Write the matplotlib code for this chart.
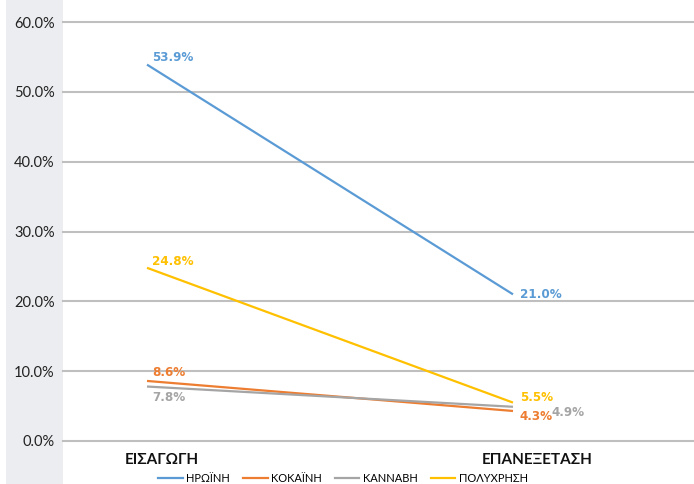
import matplotlib
matplotlib.use("Agg")
import matplotlib.pyplot as plt
from matplotlib.patches import Rectangle
from matplotlib.lines import Line2D
import matplotlib.transforms as mtransforms
from matplotlib import font_manager

categories = ["ΕΙΣΑΓΩΓΗ", "ΕΠΑΝΕΞΕΤΑΣΗ"]
series_names = ["ΗΡΩΪΝΗ", "ΚΟΚΑΪΝΗ", "ΚΑΝΝΑΒΗ", "ΠΟΛΥΧΡΗΣΗ"]
heroin = [53.9, 21.0]
cocaine = [8.6, 4.3]
cannabis = [7.8, 4.9]
poly = [24.8, 5.5]
yticks = [0, 10, 20, 30, 40, 50, 60]

colors = ["#5B9BD5", "#ED7D31", "#A5A5A5", "#FFC000"]
series = [heroin, cocaine, cannabis, poly]
offsets = [
    [(5, 7), (7, 0)],
    [(5, 8), (7, -6)],
    [(5, -11), (39, -6)],
    [(5, 6), (7, 5)],
]

cond = [f for f in font_manager.fontManager.ttflist if "condensed" in str(f.stretch).lower() or "Condensed" in f.fname]
label_family = "DejaVu Sans"
label_stretch = "condensed" if cond else "normal"

W, H = 694, 484
fig = plt.figure(figsize=(W / 100, H / 100), dpi=100)
fig.patch.set_facecolor("white")
bg = Rectangle((6 / W, 0), (63 - 6) / W, 1, transform=fig.transFigure,
               facecolor="#ECEDF0", edgecolor="none", zorder=-10)
fig.add_artist(bg)

ax = fig.add_axes([63 / W, (H - 441) / H, (W - 63) / W, (441 - 22) / H])
ax.set_zorder(1)
ax.set_facecolor("none")
x = [0, 1]
ax.set_xlim(-(147 - 63) / 366, 1 + (W - 513) / 366)
ax.set_ylim(0, 60)
ax.set_yticks(yticks)
ax.set_yticklabels([f"{v:.1f}%" for v in yticks], fontsize=10.5, family="Lato", color="#222222")
ax.grid(axis="y", color="#BFBFBF", linewidth=1.5)
for gl in ax.get_ygridlines():
    gl.set_clip_on(False)
ax.set_axisbelow(True)
for s in ax.spines.values():
    s.set_visible(False)
ax.tick_params(axis="both", length=0)
ax.tick_params(axis="y", pad=6)

ax.set_xticks(x)
ax.set_xticklabels(categories, fontsize=11, family="Lato", fontweight="bold", color="#111111")
ax.tick_params(axis="x", pad=9)
shifts = [15, 24]
for lab, sh in zip(ax.get_xticklabels(), shifts):
    lab.set_transform(lab.get_transform() + mtransforms.ScaledTranslation(sh / 100, 0, fig.dpi_scale_trans))

handles = []
for name, vals, c, offs in zip(series_names, series, colors, offsets):
    ax.plot(x, vals, color=c, linewidth=1.6, solid_capstyle="butt")
    handles.append(Line2D([0], [0], color=c, linewidth=1.6))
    for xi, v, (dx, dy) in zip(x, vals, offs):
        ax.annotate(f"{v:.1f}%", (xi, v), xytext=(dx, dy), textcoords="offset pixels",
                    ha="left", va="center", fontsize=9.5, fontweight="bold",
                    family=label_family, fontstretch=label_stretch, color=c)

fig.legend(handles, series_names, loc="center", bbox_to_anchor=(343 / W, 1 - 478 / H),
           ncol=4, frameon=False, prop={"family": "Lato", "size": 8},
           handlelength=2.2, handletextpad=0.3, columnspacing=1.2)

fig.savefig("out.png", dpi=100)
